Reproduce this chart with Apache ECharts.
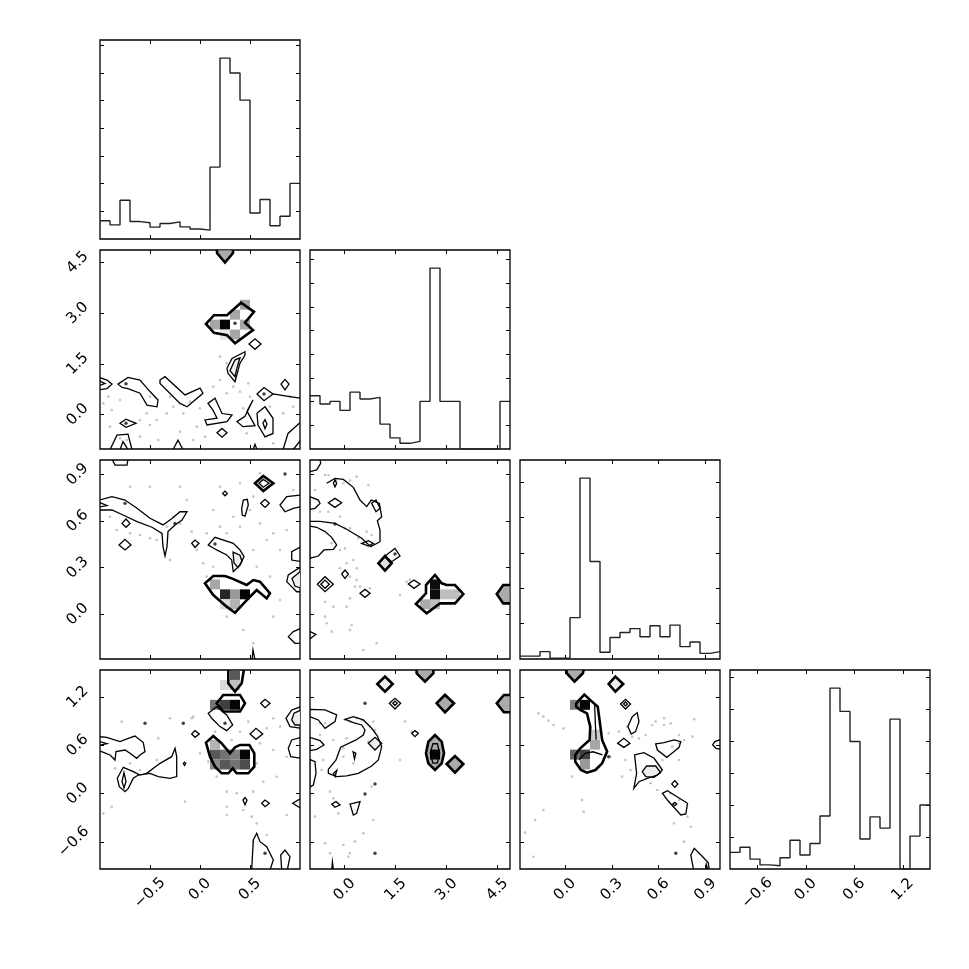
<!DOCTYPE html>
<html><head><meta charset="utf-8">
<script src="https://cdn.jsdelivr.net/npm/echarts@6/dist/echarts.min.js"></script>
<style>html,body{margin:0;padding:0;background:#fff}#c{width:969px;height:969px}</style>
</head><body><div id="c"></div>
<script>
// ---------- axis ranges & ticks ----------
const range1 = [-1.0, 1.0];
const range2 = [-1.02, 4.87];
const range3 = [-0.288, 0.993];
const range4 = [-0.938, 1.537];
const ticks1 = [-0.5, 0.0, 0.5];
const ticks2 = [0.0, 1.5, 3.0, 4.5];
const ticks3 = [0.0, 0.3, 0.6, 0.9];
const ticks4 = [-0.6, 0.0, 0.6, 1.2];

// ---------- 1D histograms (20 bins each) ----------
const hist1 = [6.6,5.1,14.0,6.3,5.9,4.3,5.6,6.2,4.4,3.6,3.2,26.0,65.4,60.0,50.2,9.4,14.3,4.8,8.2,20.1];
const hist2 = [2.25,1.90,2.01,1.63,2.40,2.11,2.18,1.05,0.47,0.24,0.32,2.01,7.64,2.01,2.01,0,0,0,0,2.01];
const hist3 = [0.08,0.08,0.21,0.02,0.02,1.17,5.12,2.76,0.19,0.61,0.75,0.86,0.63,0.94,0.63,0.96,0.35,0.48,0.16,0.21];
const hist4 = [0.52,0.68,0.31,0.13,0.10,0.35,0.90,0.44,0.80,1.66,5.66,4.93,3.99,0.94,1.63,1.28,4.69,0,1.03,2.00];
const histTicks1 = [10,20,30,40,50,60,70];
const histTicks2 = [1,2,3,4,5,6,7,8];
const histTicks3 = [1,2,3,4,5];
const histTicks4 = [1,2,3,4,5,6];

// ---------- panel A: var1 vs var2 ----------
const contoursA = [
 [0.06,2.68, 0.14,2.94, 0.27,2.94, 0.41,3.31, 0.54,3.04, 0.45,2.72, 0.53,2.50, 0.35,2.11, 0.27,2.35, 0.14,2.42],
 [0.17,4.9, 0.17,4.78, 0.25,4.50, 0.33,4.78, 0.33,4.9],
 [0.49,2.09, 0.55,2.24, 0.61,2.09, 0.55,1.93],
 [0.27,1.37, 0.32,1.66, 0.45,1.86, 0.45,1.76, 0.40,1.52, 0.35,0.97, 0.28,1.22],
 [0.30,1.30, 0.35,1.62, 0.40,1.68, 0.37,1.38, 0.35,1.12],
 [-1.01,1.10, -0.93,1.02, -0.88,0.90, -0.93,0.77, -1.01,0.73],
 [-1.01,1.0, -0.95,0.92, -1.01,0.85],
 [-0.82,0.90, -0.72,1.10, -0.60,1.02, -0.50,0.68, -0.42,0.43, -0.43,0.23, -0.53,0.28, -0.60,0.63, -0.72,0.77, -0.78,0.80],
 [-0.40,1.02, -0.35,1.12, -0.15,0.58, 0.00,0.78, 0.03,0.63, -0.13,0.23, -0.20,0.33, -0.40,0.92],
 [0.08,0.33, 0.15,0.48, 0.22,0.03, 0.32,-0.01, 0.27,-0.21, 0.07,-0.31, 0.05,-0.16, 0.17,-0.11, 0.13,0.13],
 [0.37,-0.21, 0.45,-0.05, 0.53,0.43, 0.47,0.10, 0.55,-0.33, 0.43,-0.36],
 [0.17,-0.54, 0.22,-0.41, 0.27,-0.54, 0.22,-0.67],
 [0.57,0.61, 0.64,0.80, 0.73,0.61, 0.64,0.41],
 [0.81,0.90, 0.85,1.04, 0.89,0.90, 0.85,0.73],
 [0.73,0.61, 0.85,0.55, 1.01,0.48],
 [0.57,0.04, 0.65,0.23, 0.73,-0.11, 0.73,-0.56, 0.65,-0.66, 0.58,-0.31],
 [0.63,-0.25, 0.65,-0.15, 0.67,-0.28, 0.65,-0.42],
 [0.83,-1.04, 0.88,-0.56, 1.01,-0.21],
 [0.93,-1.04, 1.01,-0.75],
 [-0.90,-1.04, -0.83,-0.61, -0.72,-0.58, -0.68,-1.04],
 [-0.80,-1.04, -0.77,-0.80, -0.72,-1.04],
 [-0.80,-0.26, -0.74,-0.14, -0.64,-0.26, -0.74,-0.38],
 [-0.27,-1.04, -0.22,-0.76, -0.17,-1.04],
 [0.53,-1.04, 0.55,-0.88, 0.57,-1.04]
];
const cellsA = [[11,12,0.65],[12,12,0.02],[14,12,0.65],[13,13,0.65],[14,14,0.65],[13,11,0.65],[12,11,0.9]];
const pointsA = [[-0.967,0.331],[-0.917,0.529],[-0.883,0.134],[-0.8,0.43],[-0.6,-0.162],[-0.533,0.035],[-0.5,-0.31],[-0.417,-0.754],[-0.3,0.529],[-0.267,0.233],[-0.167,0.035],[-0.1,0.381],[-0.033,-0.359],[0.05,-0.655],[0.133,0.825],[0.2,1.022],[0.267,0.627],[0.333,0.825],[0.4,0.677],[0.433,0.183],[0.483,0.923],[0.5,0.529],[0.2,1.713],[0.267,1.515],[0.467,-0.557],[0.733,-0.853],[0.833,0.035],[0.9,0.529],[-0.733,-0.754],[-0.6,-0.655],[-0.333,0.035],[-0.2,-0.508],[-0.067,-0.754],[0,0.183],[-0.9,-0.359],[-0.8,-0.705],[-0.5,0.529],[-0.433,-0.162],[0.7,0.233],[0.933,0.233]];
const darkA = [[0.35,2.70],[-0.74,-0.26],[0.64,0.61],[-0.74,0.91]];

// ---------- panel B: var1 vs var3 ----------
const contoursB = [
 [-0.88,1.0, -0.85,0.96, -0.73,0.96, -0.72,1.0],
 [-1.01,0.735, -0.88,0.757, -0.75,0.735, -0.63,0.682, -0.5,0.618, -0.37,0.575, -0.28,0.617, -0.2,0.66, -0.13,0.66, -0.18,0.607, -0.25,0.575, -0.32,0.532, -0.33,0.435, -0.35,0.375, -0.37,0.435, -0.38,0.521, -0.48,0.56, -0.63,0.596, -0.77,0.639, -0.88,0.671, -1.01,0.671],
 [-1.01,0.72, -0.93,0.70, -1.01,0.69],
 [-0.78,0.585, -0.74,0.613, -0.70,0.585, -0.74,0.56],
 [-0.81,0.446, -0.75,0.482, -0.69,0.446, -0.75,0.414],
 [-0.083,0.457, -0.05,0.478, -0.01,0.457, -0.05,0.43],
 [0.227,0.778, 0.25,0.793, 0.273,0.778, 0.25,0.763],
 [0.417,0.682, 0.433,0.735, 0.473,0.74, 0.483,0.703, 0.45,0.632, 0.423,0.639],
 [0.55,0.843, 0.633,0.89, 0.733,0.843, 0.633,0.793],
 [0.59,0.843, 0.633,0.868, 0.69,0.843, 0.633,0.818],
 [0.607,0.714, 0.65,0.74, 0.693,0.714, 0.65,0.688],
 [1.01,0.768, 0.867,0.757, 0.8,0.703, 0.85,0.66, 0.933,0.682, 1.01,0.693],
 [0.083,0.446, 0.15,0.495, 0.333,0.457, 0.4,0.414, 0.44,0.371, 0.4,0.317, 0.333,0.274, 0.317,0.349, 0.267,0.382, 0.167,0.414],
 [0.33,0.40, 0.40,0.38, 0.42,0.34, 0.38,0.30, 0.34,0.33],
 [1.01,0.435, 0.917,0.403, 0.917,0.349, 1.01,0.339],
 [1.01,0.306, 0.883,0.253, 0.867,0.21, 0.967,0.145, 1.01,0.145],
 [1.01,0.28, 0.92,0.23, 0.95,0.18, 1.01,0.17],
 [0.05,0.199, 0.133,0.246, 0.25,0.246, 0.317,0.231, 0.467,0.188, 0.533,0.22, 0.6,0.21, 0.7,0.135, 0.667,0.102, 0.567,0.156, 0.5,0.113, 0.35,0.01, 0.267,0.049, 0.133,0.124],
 [1.01,-0.09, 0.933,-0.112, 0.883,-0.144, 0.95,-0.187, 1.01,-0.187],
 [0.52,-0.295, 0.53,-0.23, 0.55,-0.295]
];
const cellsB = [[11,7,0.65],[12,6,0.15],[13,6,0.6],[14,6,0.02],[13,5,0.7],[12,5,0.85]];
const pointsB = [[-0.9,0.628],[-0.833,0.542],[-0.7,0.521],[-0.6,0.51],[-0.5,0.489],[-0.433,0.478],[-0.333,0.564],[-0.3,0.349],[-0.267,0.628],[-0.2,0.585],[-0.133,0.736],[-0.083,0.532],[-0.033,0.414],[0.033,0.328],[0.067,0.521],[0.133,0.671],[0.2,0.564],[0.267,0.521],[0.333,0.628],[0.4,0.564],[0.5,0.671],[0.533,0.757],[0.6,0.585],[0.667,0.478],[0.733,0.521],[0.8,0.414],[0.867,0.542],[0.933,0.8],[0.533,0.414],[0.567,0.306],[0.7,0.242],[0.8,0.092],[0.733,-0.015],[0.533,-0.187],[0.433,-0.101],[0.4,0.049],[0.267,-0.015],[0.133,0.306],[0.067,0.242],[0.2,0.821],[0.4,0.843],[0.6,0.907],[-0.5,0.821],[-0.7,0.821],[-0.2,0.821]];
const darkB = [[0.85,0.903],[-0.75,0.714],[-0.25,0.585],[0.15,0.452]];

// ---------- panel C: var2 vs var3 ----------
const contoursC = [
 [-1.03,0.918, -0.824,0.929, -0.706,0.972, -0.725,1.0],
 [-0.529,0.843, -0.284,0.875, -0.038,0.868, 0.256,0.817, 0.453,0.735, 0.649,0.693, 0.786,0.735, 1.022,0.714, 1.091,0.628, 0.963,0.602, 1.042,0.542, 1.042,0.467, 0.767,0.435, 0.502,0.489, 0.06,0.547, -0.284,0.585, -0.725,0.598, -1.03,0.598],
 [-1.03,0.36, -0.775,0.375, -0.608,0.414, -0.333,0.418, -0.235,0.446, -0.382,0.495, -0.578,0.532, -0.824,0.56, -1.03,0.568],
 [-1.03,0.757, -0.775,0.735, -0.725,0.714, -0.873,0.682, -1.03,0.675],
 [-0.33,0.843, -0.284,0.865, -0.235,0.843, -0.284,0.82],
 [-0.48,0.718, -0.284,0.746, -0.087,0.718, -0.284,0.688],
 [0.796,0.714, 0.924,0.735, 1.042,0.682, 0.924,0.66],
 [0.502,0.456, 0.698,0.474, 0.846,0.456, 0.698,0.439],
 [0.993,0.328, 1.189,0.375, 1.385,0.328, 1.189,0.281],
 [1.189,0.375, 1.483,0.424, 1.63,0.375, 1.385,0.338],
 [-0.087,0.259, 0.011,0.285, 0.109,0.259, 0.011,0.231],
 [-0.804,0.193, -0.578,0.242, -0.333,0.193, -0.578,0.145],
 [-0.70,0.193, -0.578,0.22, -0.45,0.193, -0.578,0.167],
 [0.452,0.135, 0.6,0.16, 0.747,0.135, 0.6,0.109],
 [1.876,0.195, 2.043,0.22, 2.22,0.195, 2.043,0.167],
 [2.1,0.066, 2.396,0.135, 2.396,0.188, 2.661,0.253, 2.858,0.199, 3.005,0.188, 3.25,0.188, 3.496,0.13, 3.25,0.07, 2.808,0.07, 2.416,0.006],
 [4.9,0.188, 4.67,0.188, 4.48,0.13, 4.67,0.07, 4.9,0.07],
 [-1.03,-0.11, -0.85,-0.13, -1.03,-0.16]
];
const cellsC = [[11,5,0.67],[12,5,0.75],[12,6,0.05],[12,7,0.05],[13,6,0.75],[14,6,0.75]];
const pointsC = [[-0.578,0.896],[-0.48,0.896],[-0.235,0.864],[-0.038,0.843],[0.158,0.86],[0.354,0.886],[0.698,0.832],[-0.873,0.8],[-0.725,0.66],[-0.48,0.66],[-0.136,0.628],[0.011,0.553],[0.158,0.553],[0.403,0.489],[0.649,0.532],[0.796,0.51],[-0.382,0.457],[-0.136,0.414],[0.011,0.424],[0.06,0.328],[0.256,0.349],[0.354,0.296],[-0.136,0.296],[0.158,0.242],[0.354,0.22],[0.305,0.178],[0.453,0.178],[0.747,0.167],[0.158,0.102],[0.06,0.049],[-0.333,0.049],[-0.578,-0.015],[-0.529,-0.058],[-0.382,-0.112],[0.158,-0.101],[0.207,-0.069],[0.551,-0.23],[0.944,-0.187],[1.63,0.124],[1.925,0.22],[1.827,0.21],[-0.578,0.081]];
const darkC = [[1.483,0.388],[-0.284,0.581]];

// ---------- panel D: var1 vs var4 ----------
const contoursD = [
 [0.283,1.55, 0.283,1.372, 0.35,1.268, 0.417,1.372, 0.44,1.55],
 [0.167,1.123, 0.233,1.227, 0.4,1.227, 0.45,1.123, 0.4,1.02, 0.233,1.02],
 [0.083,0.998, 0.167,1.081, 0.267,0.978, 0.327,0.853, 0.267,0.783, 0.2,0.833, 0.117,0.936],
 [0.607,1.123, 0.65,1.173, 0.7,1.123, 0.65,1.069],
 [0.5,0.741, 0.56,0.812, 0.627,0.741, 0.56,0.675],
 [-0.083,0.741, -0.05,0.783, -0.007,0.741, -0.05,0.70],
 [0.06,0.634, 0.133,0.716, 0.217,0.625, 0.3,0.501, 0.35,0.575, 0.4,0.605, 0.493,0.605, 0.543,0.501, 0.543,0.335, 0.483,0.252, 0.367,0.252, 0.327,0.314, 0.283,0.252, 0.217,0.252, 0.15,0.335, 0.1,0.459],
 [1.01,1.081, 0.917,1.04, 0.86,0.936, 0.9,0.833, 1.01,0.812],
 [1.01,1.04, 0.94,1.0, 0.917,0.916, 0.95,0.853, 1.01,0.853],
 [1.01,0.70, 0.917,0.667, 0.883,0.563, 0.907,0.459, 1.01,0.439],
 [-1.01,0.708, -0.933,0.70, -0.8,0.646, -0.717,0.687, -0.65,0.716, -0.567,0.634, -0.55,0.522, -0.6,0.48, -0.633,0.439, -0.7,0.501, -0.75,0.542, -0.84,0.522, -0.85,0.418, -0.9,0.48, -1.01,0.534],
 [-1.01,0.65, -0.93,0.62, -1.01,0.60],
 [-0.827,0.19, -0.767,0.327, -0.667,0.273, -0.6,0.231, -0.533,0.252, -0.4,0.376, -0.283,0.459, -0.25,0.563, -0.233,0.459, -0.233,0.211, -0.3,0.19, -0.417,0.211, -0.5,0.252, -0.617,0.231, -0.667,0.19, -0.717,0.065, -0.75,0.024, -0.807,0.086],
 [-0.78,0.15, -0.76,0.26, -0.74,0.15, -0.76,0.07],
 [-0.167,0.375, -0.155,0.39, -0.143,0.375, -0.155,0.35],
 [0.43,-0.08, 0.45,-0.05, 0.47,-0.08, 0.45,-0.14],
 [0.617,-0.121, 0.65,-0.08, 0.693,-0.121, 0.65,-0.163],
 [1.01,-0.059, 0.927,-0.121, 1.01,-0.183],
 [0.517,-0.95, 0.533,-0.577, 0.567,-0.494, 0.6,-0.598, 0.667,-0.66, 0.733,-0.826, 0.7,-0.95],
 [0.817,-0.95, 0.807,-0.764, 0.85,-0.702, 0.9,-0.785, 0.873,-0.95]
];
const cellsD = [[13,19,0.35],[13,18,0.75],[12,18,0.85],[11,16,0.45],[12,16,0.25],[13,16,0.02],[11,11,0.35],[12,11,0.45],[11,10,0.55],[12,10,0.35],[11,12,0.7],[13,11,0.5],[14,11,0.02],[13,10,0.45],[14,10,0.3]];
const pointsD = [[-0.783,0.895],[-0.417,0.687],[-0.3,0.936],[-0.067,0.957],[0.483,0.895],[0.733,0.936],[0.8,0.833],[0.6,0.625],[0.733,0.542],[0.867,0.459],[0.633,0.148],[0.767,0.21],[0.567,0.376],[0,0.501],[0.083,0.397],[0.167,0.211],[0.267,0.024],[0.367,0.003],[0.533,0.024],[0.433,-0.204],[0.267,-0.163],[0.267,-0.266],[0.517,-0.287],[0.567,-0.37],[0.867,-0.266],[0.667,-0.515],[0.533,-0.598],[-0.15,-0.1],[-0.6,0.293],[-0.7,0.376],[-0.433,0.418],[-0.85,0.314],[-0.883,-0.163],[-0.967,-0.246],[-0.083,0.936],[0.15,0.77],[0.4,0.77],[0.317,0.667],[0.667,0.812]];
const darkD = [[-0.55,0.874],[-0.167,0.874],[0.25,0.874],[0.65,-0.743]];

// ---------- panel E: var2 vs var4 ----------
const contoursE = [
 [2.12,1.55, 2.12,1.496, 2.367,1.392, 2.613,1.496, 2.613,1.55],
 [0.963,1.363, 1.189,1.455, 1.415,1.363, 1.189,1.268],
 [1.317,1.123, 1.483,1.185, 1.65,1.123, 1.483,1.052],
 [1.42,1.123, 1.483,1.15, 1.55,1.123, 1.483,1.095],
 [2.71,1.123, 2.956,1.227, 3.22,1.123, 2.956,1.011],
 [4.9,1.227, 4.69,1.227, 4.48,1.123, 4.69,1.011, 4.9,1.011],
 [1.975,0.75, 2.072,0.783, 2.17,0.75, 2.072,0.708],
 [2.396,0.501, 2.465,0.646, 2.661,0.729, 2.858,0.646, 2.927,0.501, 2.858,0.376, 2.661,0.293, 2.465,0.376],
 [2.52,0.50, 2.60,0.62, 2.73,0.62, 2.80,0.50, 2.73,0.38, 2.60,0.38],
 [3.005,0.368, 3.25,0.468, 3.496,0.368, 3.25,0.26],
 [-1.03,1.048, -0.578,1.04, -0.235,0.978, -0.284,0.895, -0.578,0.812, -0.775,0.916, -1.03,0.957],
 [-1.03,0.70, -0.725,0.658, -0.608,0.605, -0.824,0.551, -1.03,0.534],
 [-1.03,0.426, -0.873,0.397, -0.843,0.252, -0.922,0.107, -1.03,0.078],
 [-0.48,0.302, -0.254,0.418, -0.117,0.576, 0.335,0.667, 0.551,0.729, 0.6,0.791, 0.502,0.853, 0.256,0.882, 0.011,0.924, 0.256,0.957, 0.551,0.916, 0.796,0.812, 0.963,0.717, 1.091,0.584, 0.993,0.418, 0.796,0.343, 0.403,0.252, 0.06,0.219, -0.235,0.211, -0.48,0.252],
 [0.698,0.625, 0.894,0.70, 1.091,0.625, 0.894,0.542],
 [-0.33,0.25, -0.23,0.29, -0.28,0.21],
 [0.25,0.52, 0.33,0.50, 0.29,0.43],
 [-0.38,-0.13, -0.254,-0.10, -0.137,-0.14, -0.284,-0.17],
 [0.158,-0.13, 0.453,-0.10, 0.354,-0.246, 0.256,-0.266],
 [-0.38,-0.95, -0.36,-0.85, -0.33,-0.95]
];
const cellsE = [[12,11,0.02]];
const pointsE = [[-0.725,0.874],[-0.578,0.874],[0.011,0.916],[0.158,0.895],[0.354,0.936],[0.502,0.916],[0.845,0.895],[0.894,0.791],[-0.725,0.729],[-0.333,0.667],[0.06,0.687],[-0.038,0.563],[-0.627,0.418],[-0.676,0.293],[-0.431,0.024],[-0.333,-0.059],[0.796,0.086],[0.845,-0.329],[0.551,-0.494],[0.305,-0.598],[-0.038,-0.64],[0.158,-0.743],[-0.431,-0.743],[-0.578,-0.619],[0.109,-0.785],[-0.873,-0.287],[1.63,0.418],[1.778,0.895],[1.974,0.77],[-0.038,0.459],[0.256,0.376],[0.698,0.646],[-0.186,-0.246]];
const darkE = [[0.6,1.123],[0.894,-0.743],[0.6,-0.005],[0.894,0.12]];

// ---------- panel F: var3 vs var4 ----------
const contoursF = [
 [0.008,1.55, 0.012,1.496, 0.061,1.392, 0.115,1.496, 0.12,1.55],
 [0.28,1.363, 0.323,1.455, 0.373,1.363, 0.323,1.268],
 [0.356,1.115, 0.388,1.173, 0.42,1.115, 0.388,1.052],
 [0.375,1.115, 0.388,1.14, 0.40,1.115, 0.388,1.09],
 [0.072,1.123, 0.124,1.231, 0.173,1.144, 0.21,1.081, 0.227,0.833, 0.238,0.667, 0.27,0.522, 0.238,0.376, 0.195,0.293, 0.141,0.26, 0.102,0.293, 0.066,0.397, 0.066,0.48, 0.098,0.563, 0.158,0.667, 0.162,0.833, 0.141,0.998, 0.098,1.04, 0.072,1.081],
 [0.19,1.10, 0.195,0.85, 0.20,0.67],
 [0.09,0.42, 0.13,0.50, 0.18,0.52, 0.24,0.48],
 [0.403,0.833, 0.431,0.957, 0.463,1.007, 0.474,0.895, 0.452,0.77, 0.424,0.741],
 [0.338,0.625, 0.377,0.687, 0.416,0.625, 0.377,0.575],
 [0.446,0.48, 0.506,0.509, 0.571,0.439, 0.624,0.293, 0.592,0.231, 0.527,0.19, 0.474,0.148, 0.441,0.065, 0.459,0.252],
 [0.495,0.273, 0.523,0.343, 0.581,0.343, 0.613,0.26, 0.57,0.202, 0.517,0.21],
 [0.581,0.617, 0.635,0.634, 0.699,0.667, 0.742,0.646, 0.731,0.576, 0.699,0.522, 0.652,0.451, 0.592,0.542],
 [1.0,0.675, 0.96,0.646, 0.946,0.605, 0.967,0.563, 1.0,0.551],
 [0.684,0.12, 0.703,0.16, 0.724,0.12, 0.703,0.078],
 [0.624,0.003, 0.656,0.036, 0.785,-0.121, 0.774,-0.254, 0.742,-0.266, 0.656,-0.08],
 [0.69,-0.13, 0.703,-0.11, 0.716,-0.13, 0.703,-0.15],
 [0.824,-0.95, 0.806,-0.764, 0.828,-0.681, 0.882,-0.785, 0.918,-0.86, 0.924,-0.95],
 [0.9,-0.95, 0.905,-0.88, 0.915,-0.95]
];
const cellsF = [[6,16,0.02],[5,16,0.5],[7,12,0.65],[7,13,0.8],[5,11,0.4],[6,11,0.25],[6,10,0.6]];
const pointsF = [[-0.17,0.998],[-0.138,0.957],[-0.106,0.907],[-0.073,0.853],[-0.009,0.812],[-0.256,-0.486],[-0.191,-0.329],[-0.138,-0.204],[0.044,0.211],[0.12,-0.225],[0.109,-0.08],[0.28,0.75],[0.291,0.459],[0.345,0.77],[0.398,0.833],[0.431,0.708],[0.474,0.687],[0.517,0.729],[0.559,0.853],[0.581,0.895],[0.635,0.936],[0.635,0.853],[0.677,0.874],[0.731,0.729],[0.763,0.667],[0.817,0.708],[0.828,0.924],[0.731,0.625],[0.688,0.584],[0.731,0.418],[0.624,0.418],[0.549,0.128],[0.592,0.045],[0.677,0.003],[0.731,-0.08],[0.806,-0.412],[0.763,-0.598],[0.785,-0.287],[0.699,-0.37],[0.366,0.211],[0.42,0.293],[0.388,0.418],[-0.202,-0.785]];
const darkF = [[0.28,0.459],[0.71,-0.743]];

// ---------- styling (kept apart from the data) ----------
const styleA = {thick:[0,1], open:[14,17,18], fill:{1:0.67, 4:0.93}};
const styleB = {thick:[8,17], open:[], fill:{13:0.93, 16:0.93}};
const styleC = {thick:[8,15,16], open:[0,1], fill:{8:0.88, 16:0.67}};
const styleD = {thick:[0,1,6], open:[], fill:{8:0.93}};
const styleE = {thick:[0,1,4,5,7,9], open:[], fill:{0:0.67,1:0.93,4:0.67,5:0.67,7:0.67,9:0.67,14:0.93}};
const styleF = {thick:[0,1,4], open:[5,6], fill:{0:0.67,1:0.93,10:0.93}};

const ranges = [range1, range2, range3, range4];
const ticks = [ticks1, ticks2, ticks3, ticks4];
const hists = [hist1, hist2, hist3, hist4];
const histTicks = [histTicks1, histTicks2, histTicks3, histTicks4];
const panels2d = {
  '1,0': {c: contoursA, s: styleA, cells: cellsA, pts: pointsA, dark: darkA},
  '2,0': {c: contoursB, s: styleB, cells: cellsB, pts: pointsB, dark: darkB},
  '2,1': {c: contoursC, s: styleC, cells: cellsC, pts: pointsC, dark: darkC},
  '3,0': {c: contoursD, s: styleD, cells: cellsD, pts: pointsD, dark: darkD},
  '3,1': {c: contoursE, s: styleE, cells: cellsE, pts: pointsE, dark: darkE},
  '3,2': {c: contoursF, s: styleF, cells: cellsF, pts: pointsF, dark: darkF}
};

const FONT = 'DejaVu Sans', FS = 15;
const L0 = 100, T0 = 40, STEP = 210, W = 200, H = 199;
function fmt(v){ const s = Math.abs(v).toFixed(1); return v < -1e-9 ? '\u2212' + s : s; }
function grayc(g){ const v = Math.round(g*255); return 'rgb(' + v + ',' + v + ',' + v + ')'; }

const grids = [], xAxes = [], yAxes = [], series = [];
function mkAxis(g, pos, rng, tv, label){
  return {type:'value', gridIndex:g, position:pos, min:rng[0], max:rng[1],
    axisLine:{show:false, onZero:false}, splitLine:{show:false},
    axisTick:{show:true, inside:true, length:4, customValues:tv, lineStyle:{color:'#000', width:1}},
    axisLabel: label || {show:false}};
}
const baseRich = {fontSize:FS, fontFamily:FONT, color:'#000'};
function xLabel(tv){
  return {show:true, rotate:45, align:'center', verticalAlign:'middle', margin:20.5, customValues:tv,
    fontSize:FS, fontFamily:FONT, color:'#000',
    formatter: v => v < -1e-9 ? '{n|' + fmt(v) + '}' : '{p|' + fmt(v) + '}',
    rich:{n:Object.assign({padding:[5.2,5.2,0,0]}, baseRich), p:Object.assign({}, baseRich)}};
}
function yLabel(tv){
  return {show:true, rotate:45, align:'center', verticalAlign:'middle', margin:22.4, customValues:tv,
    fontSize:FS, fontFamily:FONT, color:'#000',
    formatter: v => v < -1e-9 ? '{n|' + fmt(v) + '}' : '{p|' + fmt(v) + '}',
    rich:{n:Object.assign({padding:[0,5.2,5.2,0]}, baseRich), p:Object.assign({}, baseRich)}};
}

let g = 0;
for (let r = 0; r < 4; r++) {
  for (let c = 0; c <= r; c++) {
    grids.push({left:L0 + STEP*c, top:T0 + STEP*r, width:W, height:H, show:true,
      borderColor:'#000', borderWidth:1.3, backgroundColor:'rgba(0,0,0,0)'});
    const xr = ranges[c];
    const bottomLabel = (r === 3) ? xLabel(ticks[c]) : null;
    xAxes.push(mkAxis(g, 'bottom', xr, ticks[c], bottomLabel));
    xAxes.push(mkAxis(g, 'top', xr, ticks[c], null));
    const xi = 2*g;
    if (r === c) {
      const h = hists[c];
      const ymax = 1.1*Math.max.apply(null, h);
      yAxes.push(mkAxis(g, 'left', [0, ymax], histTicks[c], null));
      yAxes.push(mkAxis(g, 'right', [0, ymax], histTicks[c], null));
      const bw = (xr[1]-xr[0]) / h.length;
      const data = h.map((v, k) => [xr[0] + k*bw, v]);
      data.push([xr[1], h[h.length-1]]);
      series.push({type:'line', xAxisIndex:xi, yAxisIndex:xi, data:data, step:'end', symbol:'none',
        lineStyle:{color:'#222', width:1.4}, clip:true, z:5, silent:true});
    } else {
      const yr = ranges[r];
      const leftLabel = (c === 0) ? yLabel(ticks[r]) : null;
      yAxes.push(mkAxis(g, 'left', yr, ticks[r], leftLabel));
      yAxes.push(mkAxis(g, 'right', yr, ticks[r], null));
      const P = panels2d[r + ',' + c];
      const wx = (xr[1]-xr[0])/20, wy = (yr[1]-yr[0])/20;
      series.push({type:'scatter', xAxisIndex:xi, yAxisIndex:xi, data:P.pts, symbolSize:2.6,
        itemStyle:{color:'rgba(90,90,90,0.45)'}, z:2, silent:true});
      const fillIdx = Object.keys(P.s.fill).map(Number);
      series.push({type:'custom', xAxisIndex:xi, yAxisIndex:xi, z:3, silent:true,
        data: fillIdx.map(i => [P.c[i][0], P.c[i][1], i]),
        renderItem: (params, api) => {
          const i = fillIdx[params.dataIndex], p = P.c[i], pts = [];
          for (let k = 0; k < p.length; k += 2) pts.push(api.coord([p[k], p[k+1]]));
          const cs = params.coordSys;
          return {type:'polygon', shape:{points:pts}, style:{fill:grayc(P.s.fill[i]), stroke:null},
            clipPath:{type:'rect', shape:{x:cs.x, y:cs.y, width:cs.width, height:cs.height}}};
        }});
      series.push({type:'custom', xAxisIndex:xi, yAxisIndex:xi, z:4, silent:true,
        data: P.cells.map(q => [xr[0] + (q[0]+0.5)*wx, yr[0] + (q[1]+0.5)*wy, q[2]]),
        renderItem: (params, api) => {
          const p = api.coord([api.value(0), api.value(1)]), s = api.size([wx, wy]);
          return {type:'rect', shape:{x:p[0]-s[0]/2, y:p[1]-s[1]/2, width:s[0], height:s[1]},
            style:{fill:grayc(api.value(2))}};
        }});
      series.push({type:'custom', xAxisIndex:xi, yAxisIndex:xi, z:5, silent:true,
        data: P.c.map((p, i) => [p[0], p[1], i]),
        renderItem: (params, api) => {
          const i = params.dataIndex, p = P.c[i], pts = [];
          for (let k = 0; k < p.length; k += 2) pts.push(api.coord([p[k], p[k+1]]));
          const cs = params.coordSys;
          const open = P.s.open.indexOf(i) >= 0;
          const thick = P.s.thick.indexOf(i) >= 0;
          return {type: open ? 'polyline' : 'polygon', shape:{points:pts},
            style:{fill:'none', stroke:'#000', lineWidth: thick ? 2.6 : 1.3},
            clipPath:{type:'rect', shape:{x:cs.x, y:cs.y, width:cs.width, height:cs.height}}};
        }});
      series.push({type:'scatter', xAxisIndex:xi, yAxisIndex:xi, data:P.dark, symbolSize:3.4,
        itemStyle:{color:'#111'}, z:6, silent:true});
    }
    g++;
  }
}

const chart = echarts.init(document.getElementById('c'), null, {renderer:'canvas'});
chart.setOption({animation:false, backgroundColor:'#fff', textStyle:{fontFamily:FONT},
  grid:grids, xAxis:xAxes, yAxis:yAxes, series:series});
</script>
</body></html>
